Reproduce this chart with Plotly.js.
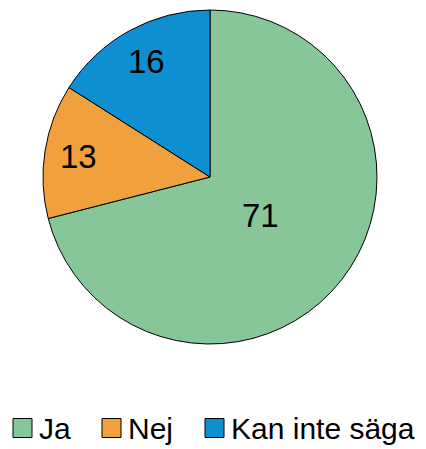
<!DOCTYPE html>
<html>
<head>
<meta charset="utf-8">
<script src="https://cdn.plot.ly/plotly-3.0.1.min.js"></script>
<style>
  html, body { margin: 0; padding: 0; background: #fff; }
  #chart { width: 426px; height: 449px; }
</style>
</head>
<body>
<div id="chart"></div>
<script>
// Answer shares (percent)
const labels = ["Ja", "Nej", "Kan inte säga"];
const values = [71, 13, 16];
const sliceColors = ["#87c699", "#f0a03d", "#0e8fd2"];

const FONT = "Liberation Sans, Arial, sans-serif";
const W = 426, H = 449;

// pie geometry (px) and how far out each value label sits (fraction of radius)
const cx = 210, cy = 177, R = 167;
const labelRadius = [0.38, 0.80, 0.79];

// legend is drawn by hand so the swatches can be as big as the reference
const legendX = [13, 102, 205];   // px, left edge of each swatch
const swatch = 19;
const legendY = 428;              // px, vertical centre of legend row

const shapes = labels.map((lab, i) => ({
  type: "rect", xref: "paper", yref: "paper",
  x0: legendX[i] / W, x1: (legendX[i] + swatch) / W,
  y0: 1 - (legendY + swatch / 2) / H, y1: 1 - (legendY - swatch / 2) / H,
  fillcolor: sliceColors[i], line: { color: "#000", width: 1 },
}));

const legendText = labels.map((lab, i) => ({
  text: lab, xref: "paper", yref: "paper",
  x: (legendX[i] + swatch + 5) / W, y: 1 - legendY / H,
  xanchor: "left", yanchor: "middle", showarrow: false,
  font: { family: FONT, size: 30, color: "#000" },
}));

// value labels at the middle angle of each slice (clockwise from 12 o'clock)
const total = values.reduce((a, b) => a + b, 0);
let acc = 0;
const valueText = values.map((v, i) => {
  const mid = (acc + v / 2) / total * 2 * Math.PI;
  acc += v;
  const r = labelRadius[i] * R;
  return {
    text: String(v), xref: "paper", yref: "paper",
    x: (cx + r * Math.sin(mid)) / W, y: 1 - (cy - r * Math.cos(mid)) / H,
    xanchor: "center", yanchor: "middle", showarrow: false,
    font: { family: FONT, size: 33, color: "#000" },
  };
});

const trace = {
  type: "pie",
  labels: labels, values: values,
  sort: false, direction: "clockwise", rotation: 0,
  marker: { colors: sliceColors, line: { color: "#000", width: 1 } },
  textinfo: "none",
  domain: { x: [(cx - R) / W, (cx + R) / W], y: [1 - (cy + R) / H, 1 - (cy - R) / H] },
  hoverinfo: "label+value",
};

const layout = {
  width: W, height: H,
  paper_bgcolor: "#fff", plot_bgcolor: "#fff",
  margin: { t: 0, r: 0, b: 0, l: 0 },
  showlegend: false,
  font: { family: FONT, color: "#000" },
  shapes, annotations: legendText.concat(valueText),
};

Plotly.newPlot("chart", [trace], layout, { displayModeBar: false, staticPlot: true });
</script>
</body>
</html>
